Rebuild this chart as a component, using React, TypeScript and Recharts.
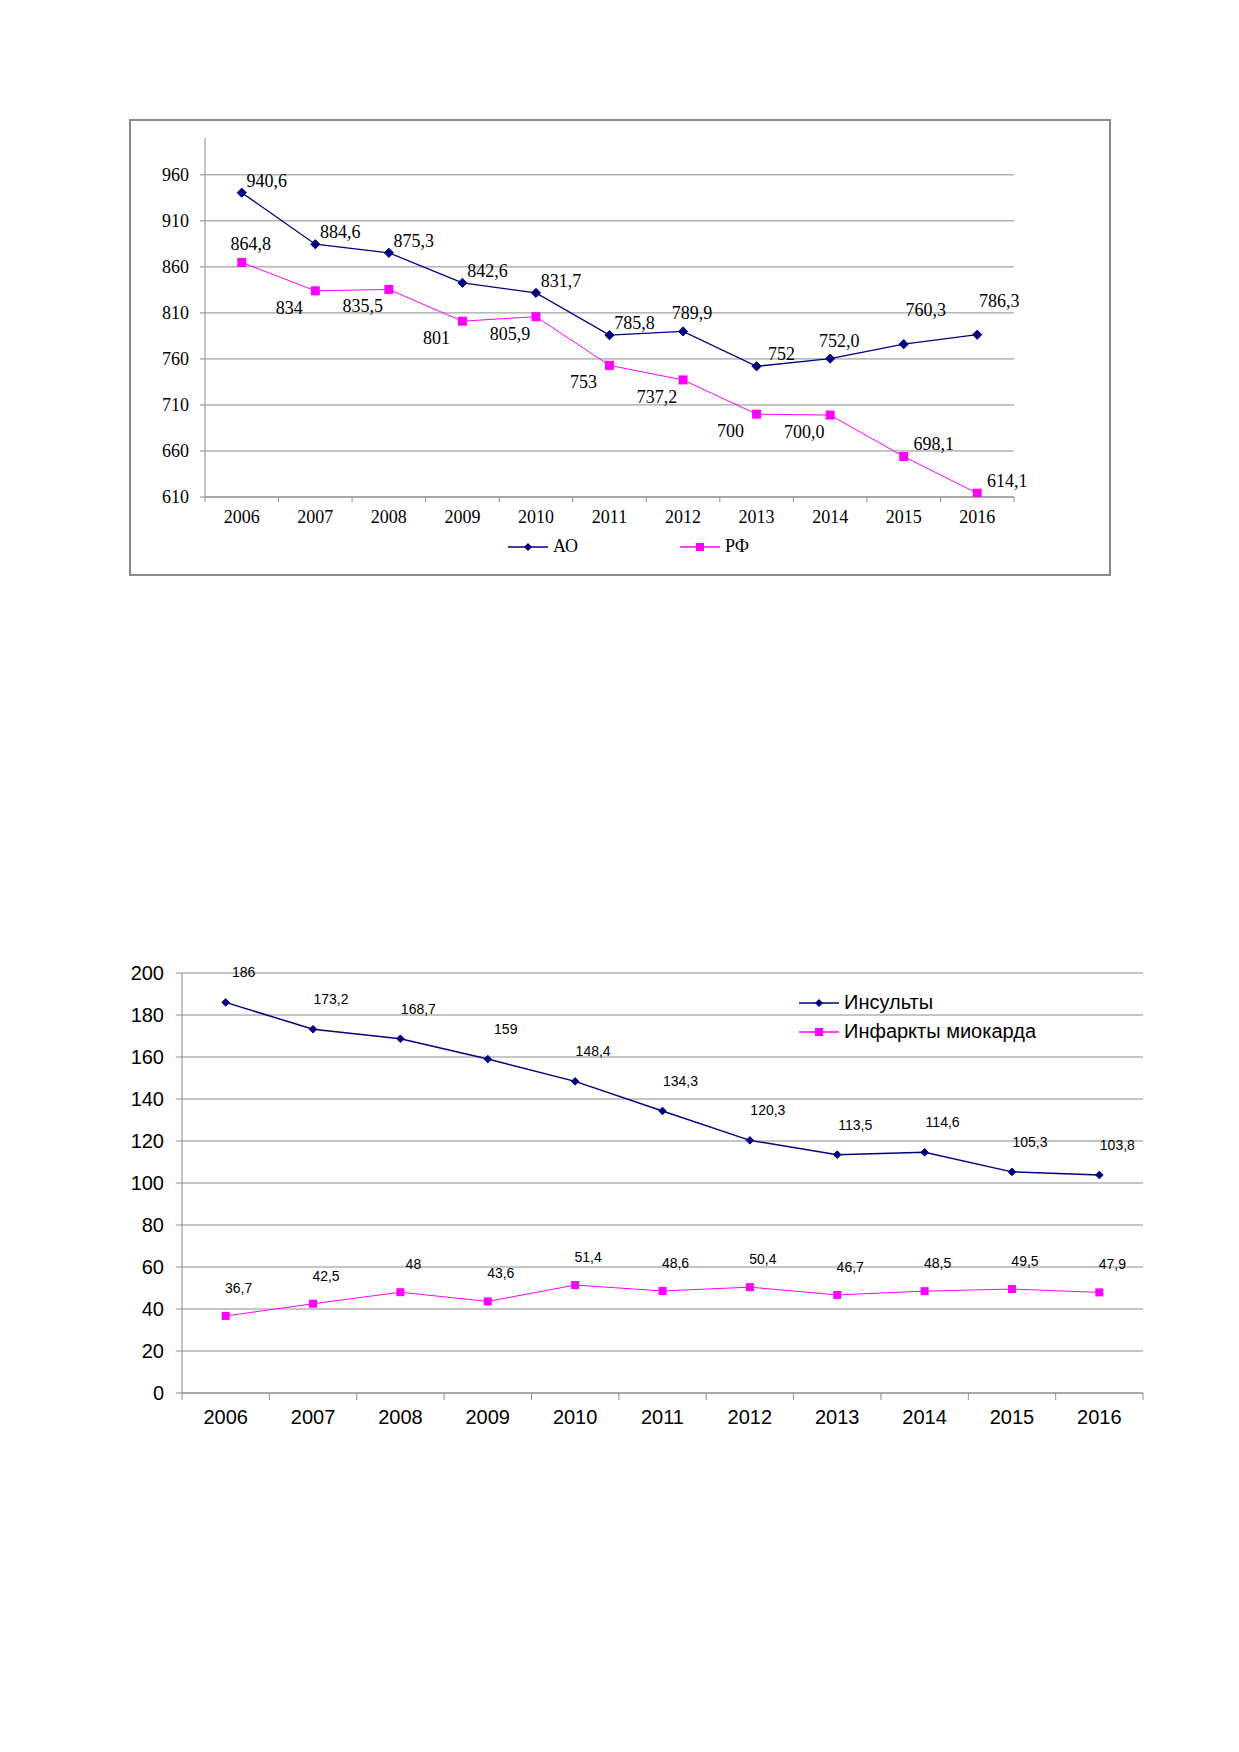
import React from "react";
import {
  ComposedChart,
  Line,
  XAxis,
  YAxis,
  CartesianGrid,
  LabelList,
} from "recharts";

// ---- chart 1: АО vs РФ ----
const years = ["2006", "2007", "2008", "2009", "2010", "2011", "2012", "2013", "2014", "2015", "2016"];
const aoValues = [940.6, 884.6, 875.3, 842.6, 831.7, 785.8, 789.9, 752, 760.3, 776, 786.3];
const aoLabels = ["940,6", "884,6", "875,3", "842,6", "831,7", "785,8", "789,9", "752", "752,0", "760,3", "786,3"];
const aoLabelSide = ["topRight", "topRight", "topRight", "topRight", "topRight", "topRight", "top", "topRight", "top", "highRight", "highRight"];
const rfValues = [864.8, 834, 835.5, 801, 805.9, 753, 737.2, 700, 699, 654, 614.1];
const rfLabels = ["864,8", "834", "835,5", "801", "805,9", "753", "737,2", "700", "700,0", "698,1", "614,1"];
const rfLabelSide = ["top", "bottomLeft", "bottomLeft", "bottomLeft", "bottomLeft", "bottomLeft", "bottomLeft", "bottomLeft", "bottomLeft", "right", "right"];
const chart1Ticks = [610, 660, 710, 760, 810, 860, 910, 960];

// ---- chart 2: инсульты / инфаркты ----
const strokeValues = [186, 173.2, 168.7, 159, 148.4, 134.3, 120.3, 113.5, 114.6, 105.3, 103.8];
const infarctValues = [36.7, 42.5, 48, 43.6, 51.4, 48.6, 50.4, 46.7, 48.5, 49.5, 47.9];
const chart2Ticks = [0, 20, 40, 60, 80, 100, 120, 140, 160, 180, 200];

const data1 = years.map((y, i) => ({ year: y, ao: aoValues[i], rf: rfValues[i] }));
const data2 = years.map((y, i) => ({ year: y, stroke: strokeValues[i], infarct: infarctValues[i] }));

const NAVY = "#000080";
const MAGENTA = "#ff00ff";
const GRID = "#8c8c8c";
const SERIF = "'Liberation Serif', 'Times New Roman', serif";
const SANS = "'Liberation Sans', Arial, sans-serif";

// where a data label sits relative to its point (like Excel's label positions)
const sideOffset: Record<string, [number, number]> = {
  top: [9, -18],
  topRight: [25, -12],
  highRight: [22, -34],
  bottomLeft: [-26, 17],
  right: [30, -12],
};

const comma = (v: number) => String(v).replace(".", ",");

function Diamond({ cx, cy, r, color }: any) {
  if (cx == null || cy == null) return null;
  return (
    <path
      d={`M${cx},${cy - r} L${cx + r},${cy} L${cx},${cy + r} L${cx - r},${cy} Z`}
      fill={color}
      stroke={color}
    />
  );
}

function Square({ cx, cy, s, color }: any) {
  if (cx == null || cy == null) return null;
  return <rect x={cx - s / 2} y={cy - s / 2} width={s} height={s} fill={color} />;
}

function XTick(props: any) {
  const { x, y, payload, index, band, fontSize, fontFamily, textDy, tickLen } = props;
  return (
    <g>
      <line x1={x - band / 2} y1={y} x2={x - band / 2} y2={y + tickLen} stroke={GRID} />
      {index === years.length - 1 && (
        <line x1={x + band / 2} y1={y} x2={x + band / 2} y2={y + tickLen} stroke={GRID} />
      )}
      <text
        x={x}
        y={y + textDy}
        textAnchor="middle"
        dominantBaseline="central"
        fontSize={fontSize}
        fontFamily={fontFamily}
        fill="#000"
      >
        {payload.value}
      </text>
    </g>
  );
}

function LegendItem({ color, marker, label, fontSize, fontFamily }: any) {
  return (
    <div style={{ display: "flex", alignItems: "center", height: 29 }}>
      <svg width={42} height={14}>
        <line x1={0} y1={7} x2={40} y2={7} stroke={color} strokeWidth={1.3} />
        {marker === "diamond" ? (
          <path d="M20,3 L24,7 L20,11 L16,7 Z" fill={color} />
        ) : (
          <rect x={16} y={3} width={8} height={8} fill={color} />
        )}
      </svg>
      <span style={{ fontSize, fontFamily, marginLeft: 3, color: "#000" }}>{label}</span>
    </div>
  );
}

function sideLabel(labels: string[], sides: string[], prefix: string) {
  return (p: any) => {
    const [dx, dy] = sideOffset[sides[p.index]];
    return (
      <text
        key={`${prefix}-${p.index}`}
        x={p.x + dx}
        y={p.y + dy}
        textAnchor="middle"
        dominantBaseline="central"
        fontSize={18}
        fontFamily={SERIF}
        fill="#000"
      >
        {labels[p.index]}
      </text>
    );
  };
}

function ChartOne() {
  const band = (1014 - 205) / 11;
  return (
    <>
      <div
        style={{
          position: "absolute",
          left: 129,
          top: 119,
          width: 982,
          height: 457,
          border: "2px solid #8a8a8a",
          boxSizing: "border-box",
        }}
      />
      <div style={{ position: "absolute", left: 0, top: 0 }}>
        <ComposedChart
          width={1239}
          height={600}
          data={data1}
          margin={{ top: 138, right: 225, left: 145, bottom: 63 }}
        >
          <CartesianGrid vertical={false} stroke={GRID} horizontalValues={chart1Ticks} />
          <XAxis
            dataKey="year"
            height={40}
            padding={{ left: band / 2, right: band / 2 }}
            axisLine={{ stroke: GRID }}
            tickLine={false}
            tickSize={0}
            tickMargin={0}
            interval={0}
            tick={(p: any) => (
              <XTick {...p} band={band} fontSize={18} fontFamily={SERIF} textDy={20} tickLen={5} />
            )}
          />
          <YAxis
            width={60}
            domain={[610, 1000]}
            ticks={chart1Ticks}
            allowDataOverflow
            axisLine={{ stroke: GRID }}
            tickLine={{ stroke: GRID }}
            tickSize={5}
            tickMargin={11}
            tick={{ fill: "#000", fontSize: 18, fontFamily: SERIF }}
          />
          <Line
            dataKey="ao"
            stroke={NAVY}
            strokeWidth={1.3}
            isAnimationActive={false}
            dot={(p: any) => <Diamond key={`ao-${p.index}`} cx={p.cx} cy={p.cy} r={4.6} color={NAVY} />}
            activeDot={false}
          >
            <LabelList dataKey="ao" content={sideLabel(aoLabels, aoLabelSide, "aol")} />
          </Line>
          <Line
            dataKey="rf"
            stroke={MAGENTA}
            strokeWidth={1}
            isAnimationActive={false}
            dot={(p: any) => <Square key={`rf-${p.index}`} cx={p.cx} cy={p.cy} s={9} color={MAGENTA} />}
            activeDot={false}
          >
            <LabelList dataKey="rf" content={sideLabel(rfLabels, rfLabelSide, "rfl")} />
          </Line>
        </ComposedChart>
      </div>
      <div style={{ position: "absolute", left: 508, top: 532 }}>
        <LegendItem color={NAVY} marker="diamond" label="АО" fontSize={18} fontFamily={SERIF} />
      </div>
      <div style={{ position: "absolute", left: 680, top: 532 }}>
        <LegendItem color={MAGENTA} marker="square" label="РФ" fontSize={18} fontFamily={SERIF} />
      </div>
    </>
  );
}

function ChartTwo() {
  const band = (1142.5 - 182) / 11;
  return (
    <>
      <div style={{ position: "absolute", left: 0, top: 900 }}>
        <ComposedChart
          width={1239}
          height={560}
          data={data2}
          margin={{ top: 73, right: 96, left: 122, bottom: 17 }}
        >
          <CartesianGrid vertical={false} stroke={GRID} horizontalValues={chart2Ticks} />
          <XAxis
            dataKey="year"
            height={50}
            padding={{ left: band / 2, right: band / 2 }}
            axisLine={{ stroke: GRID }}
            tickLine={false}
            tickSize={0}
            tickMargin={0}
            interval={0}
            tick={(p: any) => (
              <XTick {...p} band={band} fontSize={20} fontFamily={SANS} textDy={24} tickLen={7} />
            )}
          />
          <YAxis
            width={60}
            domain={[0, 200]}
            ticks={chart2Ticks}
            axisLine={{ stroke: GRID }}
            tickLine={{ stroke: GRID }}
            tickSize={6}
            tickMargin={12}
            tick={{ fill: "#000", fontSize: 20, fontFamily: SANS }}
          />
          <Line
            dataKey="stroke"
            stroke={NAVY}
            strokeWidth={1.5}
            isAnimationActive={false}
            dot={(p: any) => <Diamond key={`st-${p.index}`} cx={p.cx} cy={p.cy} r={3.8} color={NAVY} />}
            activeDot={false}
          >
            <LabelList
              dataKey="stroke"
              content={(p: any) => (
                <text
                  key={`stl-${p.index}`}
                  x={p.x + 18}
                  y={p.y - 30}
                  textAnchor="middle"
                  dominantBaseline="central"
                  fontSize={14}
                  fontFamily={SANS}
                  fill="#000"
                >
                  {comma(strokeValues[p.index])}
                </text>
              )}
            />
          </Line>
          <Line
            dataKey="infarct"
            stroke={MAGENTA}
            strokeWidth={1}
            isAnimationActive={false}
            dot={(p: any) => <Square key={`in-${p.index}`} cx={p.cx} cy={p.cy} s={8} color={MAGENTA} />}
            activeDot={false}
          >
            <LabelList
              dataKey="infarct"
              content={(p: any) => (
                <text
                  key={`inl-${p.index}`}
                  x={p.x + 13}
                  y={p.y - 28}
                  textAnchor="middle"
                  dominantBaseline="central"
                  fontSize={14}
                  fontFamily={SANS}
                  fill="#000"
                >
                  {comma(infarctValues[p.index])}
                </text>
              )}
            />
          </Line>
        </ComposedChart>
      </div>
      <div style={{ position: "absolute", left: 799, top: 988 }}>
        <LegendItem color={NAVY} marker="diamond" label="Инсульты" fontSize={20} fontFamily={SANS} />
        <LegendItem color={MAGENTA} marker="square" label="Инфаркты миокарда" fontSize={20} fontFamily={SANS} />
      </div>
    </>
  );
}

export default function App() {
  return (
    <div
      style={{
        position: "absolute",
        left: 0,
        top: 0,
        width: 1239,
        height: 1752,
        background: "#fff",
        overflow: "hidden",
      }}
    >
      <ChartOne />
      <ChartTwo />
    </div>
  );
}
